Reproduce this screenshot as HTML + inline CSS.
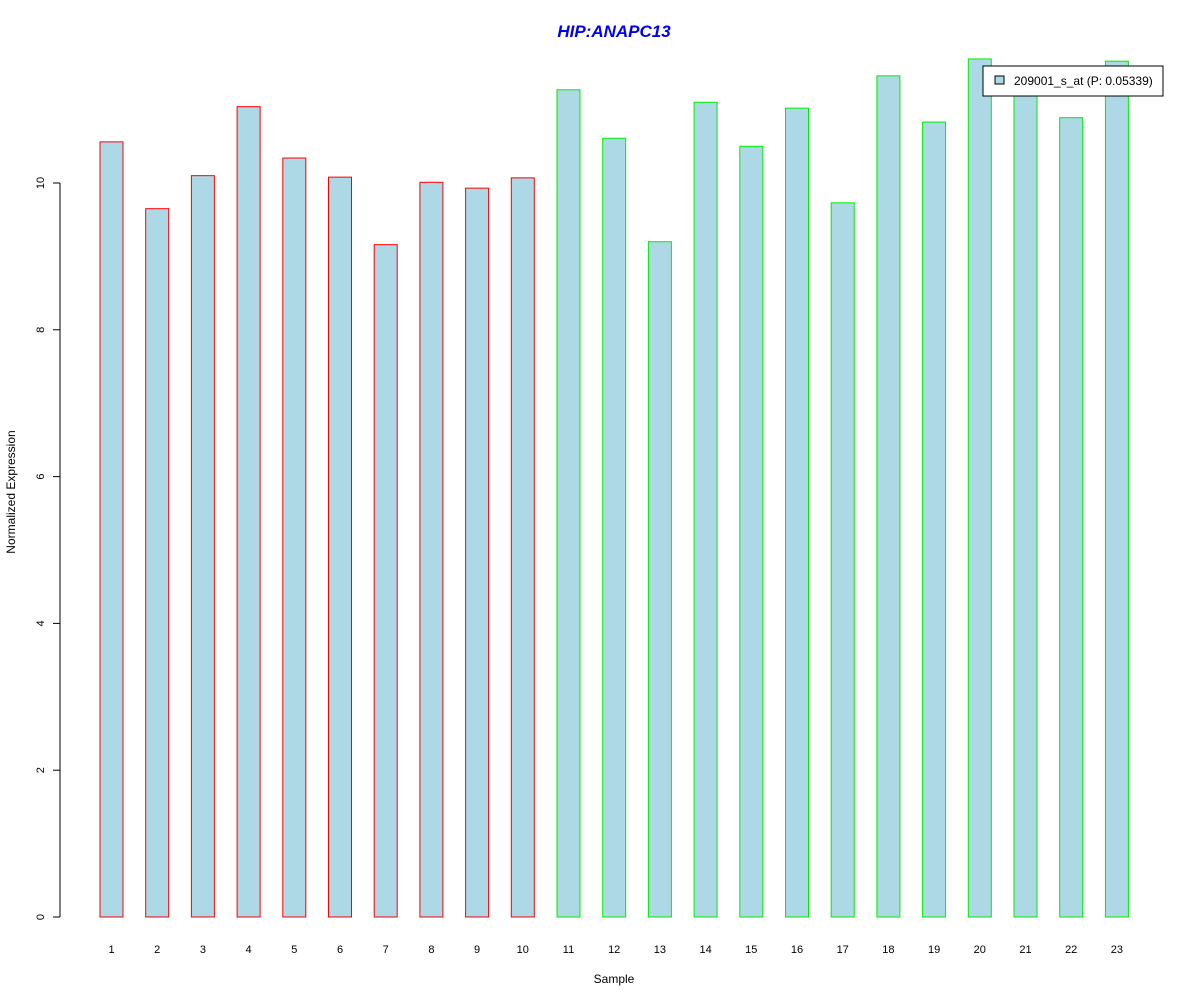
<!DOCTYPE html>
<html><head><meta charset="utf-8"><style>
body{margin:0;background:#fff;}
svg{display:block;font-family:"Liberation Sans",Arial,sans-serif;}
</style></head><body>
<svg id="chart" width="1200" height="1000">
<text x="614" y="37" text-anchor="middle" font-size="17" font-weight="bold" font-style="italic" fill="#0000ee">HIP:ANAPC13</text>
<text x="614" y="983" text-anchor="middle" font-size="12">Sample</text>
<text transform="translate(15,492) rotate(-90)" text-anchor="middle" font-size="12">Normalized Expression</text>
<g id="yaxis"></g>
<g id="bars"></g>
<g id="xlabels"></g>
<g>
<rect x="983" y="66" width="180" height="30" fill="#fff" stroke="#000"/>
<rect x="995" y="76" width="9" height="8" fill="#add8e6" stroke="#000"/>
<text x="1014" y="85" font-size="12">209001_s_at (P: 0.05339)</text>
</g>
</svg>
<script>
const categories=["1","2","3","4","5","6","7","8","9","10","11","12","13","14","15","16","17","18","19","20","21","22","23"];
const values=[10.56,9.65,10.10,11.04,10.34,10.08,9.16,10.01,9.93,10.07,11.27,10.61,9.20,11.10,10.50,11.02,9.73,11.46,10.83,11.69,11.3,10.89,11.66];
const groups=["a","a","a","a","a","a","a","a","a","a","b","b","b","b","b","b","b","b","b","b","b","b","b"];
const yTicks=[0,2,4,6,8,10];
const NS="http://www.w3.org/2000/svg";
const y=v=>917-v*73.4;
const xc=i=>111.5+i*45.7;
const bw=23;
const yg=document.getElementById('yaxis');
function mk(t,a,p){const e=document.createElementNS(NS,t);for(const k in a)e.setAttribute(k,a[k]);p.appendChild(e);return e;}
mk('line',{x1:60,x2:60,y1:y(0),y2:y(10),stroke:'#000'},yg);
yTicks.forEach(t=>{
 mk('line',{x1:53,x2:60,y1:y(t),y2:y(t),stroke:'#000'},yg);
 const tx=mk('text',{transform:`translate(44,${y(t)}) rotate(-90)`,'text-anchor':'middle','font-size':11},yg);
 
 
 tx.textContent=t;
});
const bg=document.getElementById('bars'),xg=document.getElementById('xlabels');
values.forEach((v,i)=>{
 const r=mk('rect',{x:xc(i)-bw/2,y:y(v),width:bw,height:y(0)-y(v),fill:'#add8e6',stroke:groups[i]==='a'?'#ff0000':'#00ee00'},bg);
 
 
 const t=mk('text',{x:xc(i),y:953,'text-anchor':'middle','font-size':11},xg);
 
 
 t.textContent=categories[i];
});
</script>
</body></html>
